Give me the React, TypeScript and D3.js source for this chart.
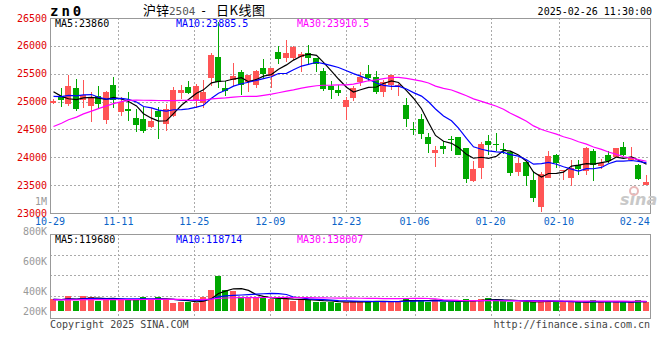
import React from "react";
import * as d3 from "d3";

// daily candles 2024-10-29 .. 2025-02-26
const opens = [
  24970, 25077, 24952, 25244, 25036, 24917, 25095, 24667, 25303, 24810,
  24875, 24714, 24679, 24542, 24833, 24590, 24738, 25149, 25262, 25018,
  24976, 25416, 25803, 25250, 25381, 25535, 25357, 25303, 25607, 25452,
  25892, 25791, 25791, 25803, 25875, 25785, 25553, 25274, 25214, 24899,
  25072, 25357, 25494, 25440, 25179, 25304, 25286, 24941, 24509, 24691,
  24369, 24072, 24203, 24322, 24369, 24167, 23566, 23816, 24298, 24245,
  24155, 24096, 23733, 23923, 23590, 23114, 23620, 24036, 23745, 23631,
  23858, 23750, 24113, 23840, 24036, 24000, 24191, 23959, 23870, 23495,
];
const closes = [
  25018, 25030, 25286, 24869, 25125, 25065, 24964, 25178, 25036, 24988,
  24839, 24572, 24470, 24643, 24720, 24875, 25214, 25214, 25161, 25286,
  25178, 25839, 25351, 25190, 25464, 25298, 25482, 25553, 25488, 25607,
  25768, 25875, 25982, 25857, 25774, 25666, 25232, 25202, 25149, 25036,
  25238, 25435, 25417, 25179, 25351, 25476, 25292, 24679, 24500, 24411,
  24233, 24137, 24155, 24316, 24048, 23608, 23786, 24244, 24215, 24238,
  24131, 23721, 23893, 23661, 23263, 23697, 24030, 23905, 23768, 23810,
  23786, 24161, 23858, 23905, 23929, 24167, 24036, 24000, 23608, 23560,
];
const highs = [
  25048, 25244, 25482, 25405, 25393, 25167, 25286, 25196, 25446, 25083,
  25167, 24869, 24905, 24881, 24911, 24964, 25268, 25303, 25363, 25321,
  25393, 25875, 26430, 25363, 25684, 25571, 25482, 25565, 25773, 25607,
  26000, 26107, 26000, 25893, 26017, 25785, 25607, 25375, 25303, 25077,
  25286, 25524, 25655, 25548, 25393, 25476, 25316, 25066, 24631, 24780,
  24441, 24203, 24292, 24381, 24369, 24167, 23929, 24274, 24393, 24435,
  24256, 24107, 23983, 23923, 23750, 23739, 24119, 24060, 23780, 23947,
  23947, 24185, 24155, 23965, 24107, 24167, 24274, 24179, 23881, 23691,
];
const lows = [
  24952, 24900, 24929, 24839, 24881, 24631, 24869, 24589, 24881, 24750,
  24643, 24453, 24435, 24518, 24328, 24470, 24726, 25054, 25131, 24881,
  24887, 25274, 25238, 25095, 25274, 25113, 25167, 25250, 25422, 25244,
  25666, 25714, 25744, 25524, 25655, 25524, 25196, 25042, 25095, 24667,
  25018, 25286, 25375, 25143, 25089, 25214, 25107, 24542, 24399, 24322,
  24078, 23822, 24054, 24108, 24036, 23530, 23554, 23608, 24036, 24120,
  24066, 23667, 23667, 23483, 23203, 23013, 23620, 23810, 23590, 23489,
  23691, 23679, 23572, 23798, 23905, 24000, 24018, 23953, 23590, 23495,
];
const volumes = [
  152000, 134000, 195000, 134000, 195000, 182000, 134000, 165000, 147000, 143000,
  143000, 143000, 182000, 143000, 182000, 143000, 108000, 121000, 121000, 100000,
  182000, 273000, 459000, 273000, 256000, 186000, 165000, 173000, 173000, 156000,
  152000, 152000, 134000, 152000, 143000, 121000, 121000, 121000, 108000, 113000,
  130000, 121000, 121000, 134000, 121000, 121000, 121000, 173000, 134000, 134000,
  121000, 139000, 121000, 121000, 121000, 156000, 130000, 156000, 169000, 134000,
  130000, 121000, 121000, 113000, 113000, 143000, 130000, 121000, 113000, 113000,
  113000, 113000, 143000, 113000, 121000, 113000, 113000, 117000, 143000, 121000,
];

// sessions before 10-29, estimated from where the MA lines start
const priorCloses = [
  23300, 23350, 23450, 23400, 23550, 23650, 23700, 23800, 23900, 24180,
  24500, 24500, 24700, 24800, 24950, 25150, 25150, 25100, 25200, 25280,
  25100, 25050, 24950, 24962, 25000, 25450, 25500, 24950, 24970,
];
const priorVolumes = [
  130000, 135000, 142000, 150000, 138000, 145000, 160000, 170000, 150000, 140000,
  135000, 130000, 128000, 135000, 140000, 142000, 138000, 130000, 136000, 136000,
  150000, 145000, 148000, 152000, 145000, 155000, 150000, 148000, 155000,
];

const tickIndex = [0, 9, 19, 29, 39, 48, 58, 67, 77];
const tickLabels = ["10-29", "11-11", "11-25", "12-09", "12-23", "01-06", "01-20", "02-10", "02-24"];
const priceTicks = [23000, 23500, 24000, 24500, 25000, 25500, 26000, 26500];
const volTicks = [1000000, 800000, 600000, 400000, 200000];
const volTickLabels = ["1M", "800K", "600K", "400K", "200K"];
const maPeriods = [5, 10, 30];
const maColors = ["#000000", "#0000ff", "#ff00ff"];
const priceMaText = ["MA5:23860", "MA10:23885.5", "MA30:23910.5"];
const volMaText = ["MA5:119680", "MA10:118714", "MA30:138007"];

const W = 660;
const H = 360;
const left = 50;
const right = 650;
const top = 18;
const bottom = 213;
const volTop = 234;
const volBottom = 318;
const volBase = 311;

const UP = "#ff5555";
const DOWN = "#00a800";
const GRID = "#aaaaaa";
const BORDER = "#999999";
const MONO = "DejaVu Sans Mono, Liberation Mono, monospace";

function movingAvg(series: number[], prior: number[], n: number) {
  const all = prior.concat(series);
  return series.map((_, i) => {
    const end = prior.length + i + 1;
    return d3.mean(all.slice(end - n, end)) as number;
  });
}

export default function App() {
  const n = closes.length;
  const xBar = d3.scaleLinear().domain([0, n]).range([left, right]);
  const xTick = d3.scaleLinear().domain([0, n - 1]).range([left, right]);
  const y = d3.scaleLinear().domain([23000, 26500]).range([bottom, top]);
  const vy = d3.scaleLinear().domain([0, 1000000]).range([volBase, volTop]);
  const vLabelY = d3.scaleLinear().domain([200000, 400000, 1000000]).range([311, 291, 201]);

  const bx = (i: number) => Math.round(xBar(i));
  const cx = (i: number) => bx(i) + 3.5;

  const priceLine = d3.line<number>().x((_, i) => cx(i)).y((d) => y(d));
  const volLine = d3.line<number>().x((_, i) => cx(i)).y((d) => vy(d));

  const priceMAs = maPeriods.map((p) => movingAvg(closes, priorCloses, p));
  const volMAs = maPeriods.map((p) => movingAvg(volumes, priorVolumes, p));

  const gridX = tickIndex.slice(1).map((i) => Math.round(xTick(i)) + 0.5).filter((x) => x < right - 15);
  const volGrid = d3.range(1, 4).map((k) => Math.round(volTop + k * 20.5) + 0.5);

  return (
    <svg width={W} height={H} fontFamily={MONO} fontSize={10}
      style={{ position: "absolute", left: 0, top: 0, display: "block", background: "#fff" }}>
      {/* header */}
      <text x={50} y={16} fontSize={14} fontWeight="bold" letterSpacing={3}>zn0</text>
      <text x={143} y={15} fontSize={13} fontFamily="Noto Sans CJK SC">沪锌</text>
      <text x={169} y={15} fontSize={11} fill="#555">2504</text>
      <text x={200} y={15} fontSize={12}>-</text>
      <text x={216} y={15} fontSize={13} fontFamily="Noto Sans CJK SC" letterSpacing={0.5}>日K线图</text>
      <text x={652} y={15} textAnchor="end">2025-02-26 11:30:00</text>

      {/* grid */}
      <g stroke={GRID} strokeDasharray="2,2" shapeRendering="crispEdges">
        {priceTicks.slice(1, -1).map((p) => (
          <line key={p} x1={left} x2={right} y1={Math.round(y(p)) + 0.5} y2={Math.round(y(p)) + 0.5} />
        ))}
        {gridX.map((x) => (
          <line key={"v" + x} x1={x} x2={x} y1={top} y2={bottom} />
        ))}
        {volGrid.map((v) => (
          <line key={"h" + v} x1={left} x2={right} y1={v} y2={v} />
        ))}
        {gridX.map((x) => (
          <line key={"vv" + x} x1={x} x2={x} y1={volTop} y2={volBottom} />
        ))}
      </g>
      <rect x={left + 0.5} y={top + 0.5} width={right - left} height={bottom - top} fill="none" stroke={BORDER} />
      <rect x={left + 0.5} y={volTop + 0.5} width={right - left} height={volBottom - volTop} fill="none" stroke={BORDER} />

      {/* axes */}
      {priceTicks.map((p) => (
        <text key={p} x={47} y={y(p)} dy="0.35em" textAnchor="end" fill="#e00000">{p}</text>
      ))}
      {tickIndex.map((i, k) => (
        <text key={i} x={xTick(i)} y={225} textAnchor="middle" fill="#0a64c8">{tickLabels[k]}</text>
      ))}

      {/* watermark */}
      <text x={620} y={205} fontFamily="DejaVu Sans" fontStyle="italic" fontWeight="bold" fontSize={16} fill="#c8c8c8">sina</text>
      <circle cx={634} cy={191} r={4} fill="none" stroke="#e8b8b8" strokeWidth={2} />

      {/* candles */}
      {closes.map((c, i) => {
        const o = opens[i];
        const col = c >= o ? UP : DOWN;
        const yt = Math.round(y(Math.max(o, c)));
        const yb = Math.round(y(Math.min(o, c)));
        return (
          <g key={i}>
            <line x1={cx(i)} x2={cx(i)} y1={y(highs[i])} y2={y(lows[i])} stroke={col} shapeRendering="crispEdges" />
            <rect x={bx(i)} y={yt} width={6} height={Math.max(1, yb - yt)} fill={col} shapeRendering="crispEdges" />
          </g>
        );
      })}
      {priceMAs.map((m, k) => (
        <path key={k} d={priceLine(m) || ""} fill="none" stroke={maColors[k]} strokeWidth={1.2} />
      ))}
      {priceMaText.map((t, k) => (
        <text key={t} x={55 + k * 121} y={27} fill={maColors[k]}>{t}</text>
      ))}

      {/* volume */}
      {volTicks.map((v, k) => (
        <text key={v} x={47} y={vLabelY(v)} dy="0.35em" textAnchor="end" fill="#999">{volTickLabels[k]}</text>
      ))}
      {volumes.map((v, i) => {
        const yt = Math.round(vy(v));
        return (
          <rect key={i} x={bx(i)} y={yt} width={6} height={volBase - yt}
            fill={closes[i] >= opens[i] ? UP : DOWN} shapeRendering="crispEdges" />
        );
      })}
      {volMAs.map((m, k) => (
        <path key={k} d={volLine(m) || ""} fill="none" stroke={maColors[k]} strokeWidth={1.2} />
      ))}
      {volMaText.map((t, k) => (
        <text key={t} x={55 + k * 121} y={243} fill={maColors[k]}>{t}</text>
      ))}

      <text x={50} y={328} fill="#444">Copyright 2025 SINA.COM</text>
      <text x={650} y={328} textAnchor="end" fill="#444">http://finance.sina.com.cn</text>
    </svg>
  );
}
